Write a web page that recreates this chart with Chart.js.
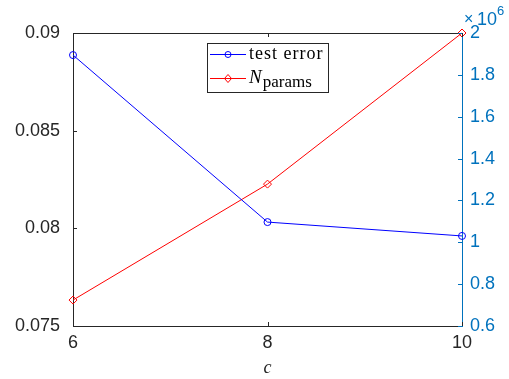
<!DOCTYPE html>
<html>
<head>
<meta charset="utf-8">
<script src="https://cdn.jsdelivr.net/npm/chart.js@4/dist/chart.umd.min.js"></script>
<style>
  html, body { margin: 0; padding: 0; background: #fff; }
  #wrap { width: 509px; height: 379px; }
</style>
</head>
<body>
<div id="wrap"><canvas id="myChart" width="509" height="379"></canvas></div>
<script>
// c values on the x axis
var cValues = [6, 8, 10];
// test error, left axis
var testError = [0.08887, 0.08032, 0.07961];
// number of parameters, right axis (x 10^6)
var nParams = [724000, 1278000, 2000000];
var leftTicks = [0.075, 0.08, 0.085, 0.09];
var rightTicks = [600000, 800000, 1000000, 1200000, 1400000, 1600000, 1800000, 2000000];

var axisBlue = '#0072BD';
var sans = '"Liberation Sans", Arial, Helvetica, sans-serif';
var serif = '"Liberation Serif", "DejaVu Serif", "Times New Roman", serif';

function toPoints(ys) {
  return cValues.map(function (c, i) { return { x: c, y: ys[i] }; });
}

// inward ticks, top frame, exponent label and the legend box
var matlabFrame = {
  id: 'matlabFrame',
  afterDraw: function (chart) {
    var ctx = chart.ctx;
    var a = chart.chartArea;
    var sx = chart.scales.x, sy = chart.scales.y, sy2 = chart.scales.y2;
    var len = 4;
    ctx.save();
    ctx.lineWidth = 1;

    // top frame line
    ctx.strokeStyle = '#262626';
    ctx.beginPath();
    ctx.moveTo(a.left, a.top + 0.5);
    ctx.lineTo(a.right, a.top + 0.5);
    ctx.stroke();

    // x ticks, bottom and top
    cValues.forEach(function (c) {
      var px = Math.round(sx.getPixelForValue(c)) + 0.5;
      ctx.beginPath();
      ctx.moveTo(px, a.bottom); ctx.lineTo(px, a.bottom - len);
      ctx.moveTo(px, a.top); ctx.lineTo(px, a.top + len);
      ctx.stroke();
    });

    // left ticks
    leftTicks.forEach(function (v) {
      var py = Math.round(sy.getPixelForValue(v)) + 0.5;
      ctx.beginPath();
      ctx.moveTo(a.left, py); ctx.lineTo(a.left + len, py);
      ctx.stroke();
    });

    // right ticks
    ctx.strokeStyle = axisBlue;
    rightTicks.forEach(function (v) {
      var py = Math.round(sy2.getPixelForValue(v)) + 0.5;
      ctx.beginPath();
      ctx.moveTo(a.right, py); ctx.lineTo(a.right - len, py);
      ctx.stroke();
    });

    // x10^6 exponent
    ctx.fillStyle = axisBlue;
    ctx.textBaseline = 'alphabetic';
    ctx.textAlign = 'left';
    ctx.font = '16px ' + sans;
    ctx.fillText('\u00d7', a.right + 2, 24);
    ctx.font = '18px ' + sans;
    ctx.fillText('10', a.right + 15, 25);
    ctx.font = '13px ' + sans;
    ctx.fillText('6', a.right + 35, 15);

    // legend
    var lx = 207, ly = 43, lw = 121, lh = 49;
    ctx.fillStyle = '#fff';
    ctx.fillRect(lx, ly, lw, lh);
    ctx.strokeStyle = '#262626';
    ctx.strokeRect(lx + 0.5, ly + 0.5, lw, lh);

    var rows = [
      { color: '#0000FF', marker: 'circle', y: ly + 11 },
      { color: '#FF0000', marker: 'diamond', y: ly + 35 }
    ];
    rows.forEach(function (r) {
      ctx.strokeStyle = r.color;
      ctx.beginPath();
      ctx.moveTo(lx + 3, r.y + 0.5); ctx.lineTo(lx + 39, r.y + 0.5);
      ctx.stroke();
      ctx.beginPath();
      if (r.marker === 'circle') {
        ctx.arc(lx + 21, r.y + 0.5, 3, 0, Math.PI * 2);
      } else {
        ctx.moveTo(lx + 21, r.y - 3.5); ctx.lineTo(lx + 24.5, r.y + 0.5);
        ctx.lineTo(lx + 21, r.y + 4.5); ctx.lineTo(lx + 17.5, r.y + 0.5);
        ctx.closePath();
      }
      ctx.stroke();
    });

    ctx.fillStyle = '#000';
    ctx.font = '18px ' + serif;
    ctx.letterSpacing = '1px';
    ctx.fillText('test error', lx + 42, ly + 16);
    ctx.letterSpacing = '0px';
    ctx.font = 'italic 19px ' + serif;
    ctx.fillText('N', lx + 42, ly + 40);
    var nw = ctx.measureText('N').width;
    ctx.font = '17px ' + serif;
    ctx.fillText('params', lx + 42 + nw + 1, ly + 44);

    ctx.restore();
  }
};

var ctxC = document.getElementById('myChart').getContext('2d');
var myChart = new Chart(ctxC, {
  type: 'line',
  data: {
    datasets: [
      {
        label: 'test error',
        data: toPoints(testError),
        yAxisID: 'y',
        borderColor: '#0000FF',
        borderWidth: 1,
        pointStyle: 'circle',
        pointRadius: 3.5,
        pointBorderColor: '#0000FF',
        pointBackgroundColor: 'rgba(0,0,0,0)',
        pointBorderWidth: 1,
        fill: false,
        tension: 0
      },
      {
        label: 'N params',
        data: toPoints(nParams),
        yAxisID: 'y2',
        borderColor: '#FF0000',
        borderWidth: 1,
        pointStyle: 'rectRot',
        pointRadius: 4,
        pointBorderColor: '#FF0000',
        pointBackgroundColor: 'rgba(0,0,0,0)',
        pointBorderWidth: 1,
        fill: false,
        tension: 0
      }
    ]
  },
  options: {
    responsive: false,
    animation: false,
    clip: false,
    layout: { padding: { top: 33, left: 0, right: 0, bottom: 0 } },
    plugins: {
      legend: { display: false },
      tooltip: { enabled: false }
    },
    scales: {
      x: {
        type: 'linear',
        min: 6,
        max: 10,
        afterFit: function (s) { s.height = 53; },
        afterBuildTicks: function (s) { s.ticks = cValues.map(function (v) { return { value: v }; }); },
        grid: { display: false, drawTicks: false },
        border: { display: true, color: '#262626', width: 1 },
        ticks: { color: '#262626', padding: 6, maxRotation: 0, font: { family: sans, size: 18 } },
        title: { display: true, text: 'c', color: '#262626', padding: { top: 2, bottom: 0 }, font: { family: serif, style: 'italic', size: 18 } }
      },
      y: {
        position: 'left',
        min: 0.075,
        max: 0.09,
        afterFit: function (s) { s.width = 73; },
        afterBuildTicks: function (s) { s.ticks = leftTicks.map(function (v) { return { value: v }; }); },
        grid: { display: false, drawTicks: false },
        border: { display: true, color: '#262626', width: 1 },
        ticks: {
          color: '#262626', padding: 13, font: { family: sans, size: 18 },
          callback: function (v) { return String(+v.toFixed(3)); }
        }
      },
      y2: {
        position: 'right',
        min: 600000,
        max: 2000000,
        afterFit: function (s) { s.width = 47; },
        afterBuildTicks: function (s) { s.ticks = rightTicks.map(function (v) { return { value: v }; }); },
        grid: { display: false, drawTicks: false },
        border: { display: true, color: axisBlue, width: 1 },
        ticks: {
          color: axisBlue, padding: 8, font: { family: sans, size: 18 },
          callback: function (v) { return String(+(v / 1e6).toFixed(1)); }
        }
      }
    }
  },
  plugins: [matlabFrame]
});
</script>
</body>
</html>
